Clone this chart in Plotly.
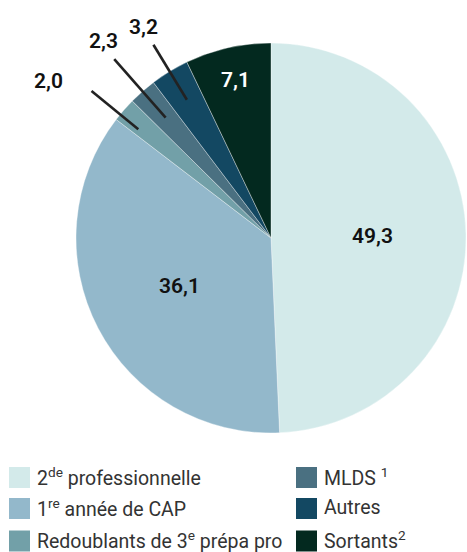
import math
import plotly.graph_objects as go

W, H = 467, 552

# ---- data ----
labels = ["2<sup>de</sup> professionnelle", "1<sup>re</sup> année de CAP",
          "Redoublants de 3<sup>e</sup> prépa pro", "MLDS <sup>1</sup>",
          "Autres", "Sortants<sup>2</sup>"]
values = [49.3, 36.1, 2.0, 2.3, 3.2, 7.1]

# ---- style ----
colors = ["#d3eaea", "#93b8cb", "#72a0a8", "#4a7081", "#134862", "#03291f"]
text_colors = ["#111111", "#111111", "#111111", "#111111", "#111111", "#ffffff"]
inside = [True, True, False, False, False, True]
in_frac = [0.52, 0.53, 0, 0, 0, 0.83]
line_in = [0, 0, 0.88, 0.82, 0.83, 0]
line_out = [0, 0, 1.19, 1.22, 1.16, 0]
line_rot = [0, 0, -1.7, 0, 0, 0]  # degrees
# (dx, dy, xanchor) of the outside label relative to the leader-line end
txt_off = [None, None, (-27, -10, "right"), (-10.5, -18.5, "center"), (-10, -17.5, "center"), None]

cx, cy, R = 271, 238, 195  # pixel geometry of pie


def px(x):
    return x / W


def py(y):
    return 1 - y / H


fig = go.Figure(go.Pie(
    values=values, labels=labels, sort=False, direction="clockwise", rotation=0,
    marker=dict(colors=colors, line=dict(color="rgba(255,255,255,0.6)", width=0.6)),
    textinfo="none", hoverinfo="label+value", showlegend=False,
    domain=dict(x=[px(cx - R), px(cx + R)], y=[py(cy + R), py(cy - R)]),
))

total = sum(values)
cum = 0
annotations = []
shapes = []
for i, v in enumerate(values):
    mid = (cum + v / 2) / total * 2 * math.pi
    cum += v
    txt = f"{v:.1f}".replace(".", ",")
    fnt = dict(family="Roboto", size=21, color=text_colors[i], weight=600)
    if inside[i]:
        s, c = math.sin(mid), math.cos(mid)
        d = in_frac[i] * R
        annotations.append(dict(x=px(cx + d * s), y=py(cy - d * c), xref="paper", yref="paper",
                                text=txt, showarrow=False, font=fnt,
                                xanchor="center", yanchor="middle"))
    else:
        a = mid + math.radians(line_rot[i])
        s, c = math.sin(a), math.cos(a)
        x0, y0 = cx + line_in[i] * R * s, cy - line_in[i] * R * c
        x1, y1 = cx + line_out[i] * R * s, cy - line_out[i] * R * c
        shapes.append(dict(type="line", xref="paper", yref="paper",
                           x0=px(x0), y0=py(y0), x1=px(x1), y1=py(y1),
                           line=dict(color="#222222", width=2.6)))
        ox, oy, xa = txt_off[i]
        annotations.append(dict(x=px(x1 + ox), y=py(y1 + oy), xref="paper", yref="paper",
                                text=txt, showarrow=False, font=fnt,
                                xanchor=xa, yanchor="middle"))

# ---- custom two-column legend ----
col_x = [9, 296]
row_y = [477.5, 508.5, 541]
sq = 21
for i, lab in enumerate(labels):
    col, row = divmod(i, 3)
    x0 = col_x[col]
    yc = row_y[row]
    shapes.append(dict(type="rect", xref="paper", yref="paper",
                       x0=px(x0), x1=px(x0 + sq), y0=py(yc + sq / 2), y1=py(yc - sq / 2),
                       fillcolor=colors[i], line=dict(width=0)))
    annotations.append(dict(x=px(x0 + sq + 5), y=py(yc - 1), xref="paper", yref="paper",
                            text=lab, showarrow=False, xanchor="left", yanchor="middle",
                            font=dict(family="Roboto", size=19.5, color="#333333")))

fig.update_layout(width=W, height=H, margin=dict(l=0, r=0, t=0, b=0),
                  paper_bgcolor="white", plot_bgcolor="white",
                  annotations=annotations, shapes=shapes)

fig.write_html("out.html", config={"displayModeBar": False},
               post_script="document.body.style.margin='0px';document.body.style.overflow='hidden';")
